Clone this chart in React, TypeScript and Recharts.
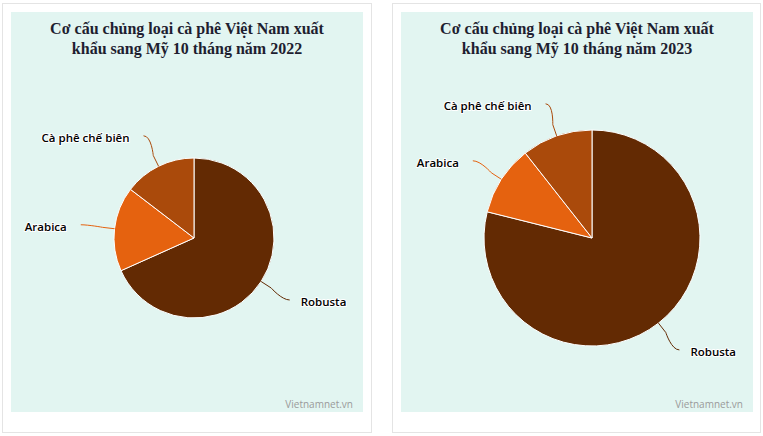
import { PieChart, Pie, Cell } from "recharts";

// Share of Vietnam coffee exports to the US by type (%), first 10 months
const categories = ["Robusta", "Arabica", "Cà phê chế biên"];
const share2022 = [68.3, 17.1, 14.6];
const share2023 = [78.9, 10.5, 10.6];
const titles = [
  "Cơ cấu chủng loại cà phê Việt Nam xuất khẩu sang Mỹ 10 tháng năm 2022",
  "Cơ cấu chủng loại cà phê Việt Nam xuất khẩu sang Mỹ 10 tháng năm 2023",
];

const SLICE_COLORS = ["#632a03", "#e5620f", "#aa4a0b"];
const PANEL_BG = "#e2f5f1";
const RADIAN = Math.PI / 180;

const toRows = (values: number[]) => categories.map((name, i) => ({ name, value: values[i] }));

// Highcharts-style outside label with a soft curved connector
const renderLabel = (props: any) => {
  const { cx, cy, midAngle, outerRadius, name, index } = props;
  const cos = Math.cos(-midAngle * RADIAN);
  const sin = Math.sin(-midAngle * RADIAN);
  const edge = { x: cx + outerRadius * cos, y: cy + outerRadius * sin };
  const bend = { x: cx + (outerRadius + 12) * cos, y: cy + (outerRadius + 12) * sin };
  const tip = { x: cx + (outerRadius + 34) * cos, y: cy + (outerRadius + 34) * sin };
  const right = cos >= 0;
  const color = SLICE_COLORS[index % SLICE_COLORS.length];
  const d = `M${tip.x},${tip.y} C${tip.x + (right ? -8 : 8)},${tip.y} ${bend.x},${bend.y} ${bend.x},${bend.y} L${edge.x},${edge.y}`;
  return (
    <g>
      <path d={d} stroke={color} strokeWidth={1} fill="none" />
      <text
        x={tip.x + (right ? 11 : -14)}
        y={tip.y}
        dy={6.5}
        textAnchor={right ? "start" : "end"}
        fontSize={11.5}
        fontFamily="'Open Sans', sans-serif"
        fontWeight={600}
        fill="#000"
        stroke="#fff"
        strokeWidth={2}
        strokeLinejoin="round"
        paintOrder="stroke"
      >
        {name}
      </text>
    </g>
  );
};

function CoffeeCard({
  left,
  width,
  title,
  values,
  radius,
  cx,
}: {
  left: number;
  width: number;
  title: string;
  values: number[];
  radius: number;
  cx: number;
}) {
  return (
    <div
      style={{
        position: "absolute",
        left,
        top: 3,
        width,
        height: 430,
        boxSizing: "border-box",
        border: "1px solid #e4e4e4",
        background: "#fff",
      }}
    >
      <div
        style={{
          position: "absolute",
          left: 8,
          top: 8,
          width: 352,
          height: 400,
          background: PANEL_BG,
        }}
      >
        <div
          style={{
            position: "absolute",
            left: 30,
            top: 7,
            width: 292,
            textAlign: "center",
            fontFamily: "'Liberation Serif', serif",
            fontWeight: "bold",
            fontSize: 16,
            lineHeight: "20px",
            color: "#1e1e30",
          }}
        >
          {title}
        </div>
        <PieChart
          width={352}
          height={400}
          margin={{ top: 0, right: 0, bottom: 0, left: 0 }}
          style={{ position: "absolute", left: 0, top: 0 }}
        >
          <Pie
            data={toRows(values)}
            dataKey="value"
            nameKey="name"
            cx={cx}
            cy={226}
            outerRadius={radius}
            startAngle={90}
            endAngle={-270}
            stroke="#fff"
            strokeWidth={1}
            label={renderLabel}
            labelLine={false}
            isAnimationActive={false}
          >
            {categories.map((c, i) => (
              <Cell key={c} fill={SLICE_COLORS[i]} />
            ))}
          </Pie>
        </PieChart>
        <div
          style={{
            position: "absolute",
            right: 10,
            top: 385,
            fontFamily: "'Open Sans', sans-serif",
            fontSize: 10,
            color: "#9a9a9a",
          }}
        >
          Vietnamnet.vn
        </div>
      </div>
    </div>
  );
}

export default function App() {
  return (
    <div style={{ position: "fixed", left: 0, top: 0, width: 763, height: 436, background: "#fff" }}>
      <CoffeeCard left={2} width={370} title={titles[0]} values={share2022} radius={80} cx={183} />
      <CoffeeCard left={392} width={369} title={titles[1]} values={share2023} radius={108} cx={191} />
    </div>
  );
}
